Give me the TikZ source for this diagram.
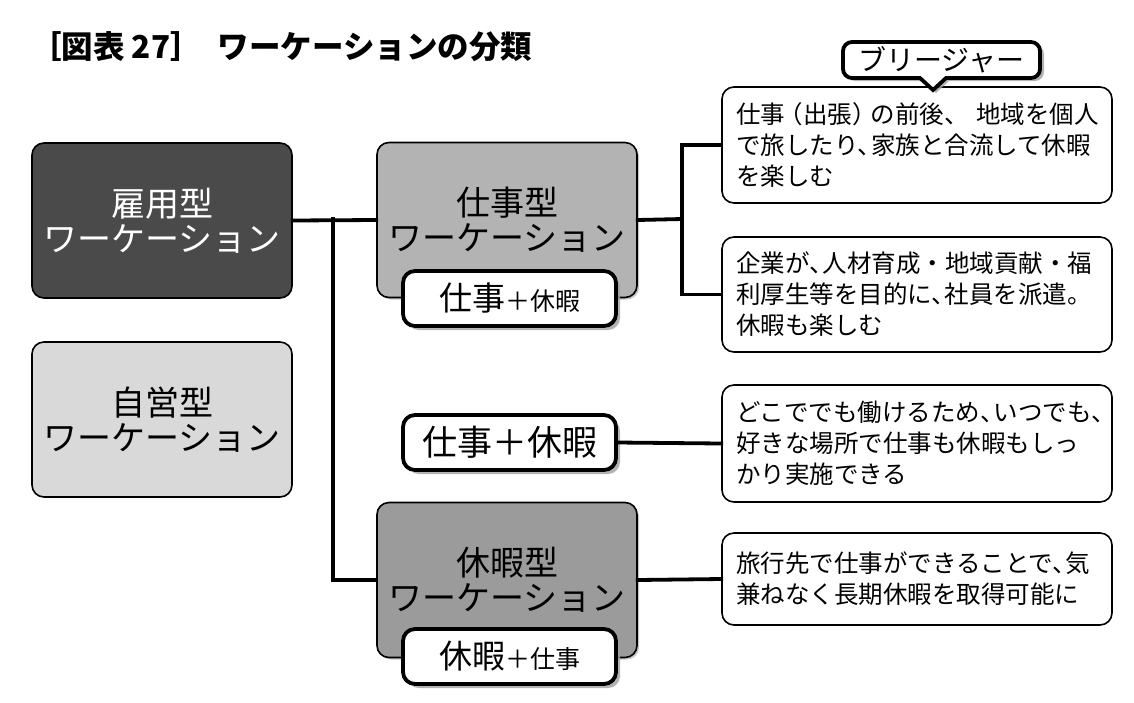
\documentclass[tikz,border=0pt]{standalone}
\usepackage{fontspec}
\setmainfont{Noto Sans CJK JP}
\usetikzlibrary{shadows}
\definecolor{cdark}{HTML}{4A4A4A}
\definecolor{clight}{HTML}{D9D9D9}
\definecolor{cmid}{HTML}{B3B3B3}
\definecolor{cmidd}{HTML}{9B9B9B}
\definecolor{cshadow}{HTML}{A0A0A0}
\newcommand\hc{、\kern-0.45em}
\tikzset{
  mainbox/.style={draw=black, line width=1.6pt, rounded corners=12pt, minimum width=260pt, minimum height=155pt, align=center, font=\fontsize{34}{35}\selectfont},
  subbox/.style={draw=black, fill=white, line width=3.8pt, rounded corners=12pt, minimum width=213pt, minimum height=55pt, inner sep=0pt,
    drop shadow={shadow xshift=4pt, shadow yshift=-4pt, fill=cshadow, opacity=0.8}},
  descbox/.style={draw=black, line width=1.6pt, rounded corners=12pt, minimum width=390pt, text width=362pt, align=left, inner xsep=14pt, font=\fontsize{24.5}{31}\selectfont},
  conn/.style={line width=3.8pt, line cap=rect},
}
\begin{document}
\begin{tikzpicture}[x=1pt, y=-1pt]
\useasboundingbox (0,0) rectangle (1134,702);
% title
\node[anchor=west, inner sep=0pt, font=\fontsize{31.5}{34}\selectfont\bfseries] (title) at (30,47) {［図表 27］\hspace{16pt}ワーケーションの分類};

% left boxes
\node[mainbox, fill=cdark, text=white] (koyo) at (162,220.5) {雇用型\\ワーケーション};
\node[mainbox, fill=clight] (jiei) at (162,419.5) {自営型\\ワーケーション};

% middle boxes
\node[mainbox, fill=cmid, drop shadow={shadow xshift=2pt, shadow yshift=-2pt, fill=cshadow, opacity=0.6}] (shigoto) at (507,220) {仕事型\\ワーケーション};
\node[mainbox, fill=cmidd, drop shadow={shadow xshift=2pt, shadow yshift=-2pt, fill=cshadow, opacity=0.6}] (kyuka) at (507,580) {休暇型\\ワーケーション};

\node[subbox] (sub1) at (509.5,298.5) {\fontsize{33}{34}\selectfont 仕事\fontsize{25}{26}\selectfont ＋休暇};
\node[subbox, font=\fontsize{35}{36}\selectfont] (wk) at (509.5,442.5) {仕事＋休暇};
\node[subbox] (sub2) at (509.5,656.5) {\fontsize{33}{34}\selectfont 休暇\fontsize{25}{26}\selectfont ＋仕事};

% description boxes
\node[descbox, minimum height=116pt] (d1) at (917,145) {\mbox{仕事\kern-0.25em（出張）\kern-0.25em の前後、\kern0.3em 地域を個人}\\\mbox{で旅したり\hc 家族と合流して休暇}\\を楽しむ};
\node[descbox, minimum height=115pt] (d2) at (917,294.5) {\mbox{企業が\hc 人材育成・地域貢献・福}\\\mbox{利厚生等を目的に\hc 社員を派遣。}\\休暇も楽しむ};
\node[descbox, minimum height=117pt] (d3) at (917,443.5) {\mbox{どこででも働けるため\hc いつでも\hc}\\\mbox{好きな場所で仕事も休暇もしっ}\\かり実施できる};
\node[descbox, minimum height=92pt] (d4) at (917,579) {\mbox{旅行先で仕事ができることで\hc 気}\\\mbox{兼ねなく長期休暇を取得可能に}};

% connectors
\coordinate (j1) at (333,219);
\coordinate (j2) at (682,219);
\draw[conn] (koyo.east) -- (shigoto.west);
\draw[conn] (j1) |- (kyuka.west);
\draw[conn] (shigoto.east) -- (j2);
\draw[conn] (d1.west) -| (j2) |- (d2.west);
\draw[conn] (wk.east) -- (d3.west);
\draw[conn] (kyuka.east) -- (d4.west);

% callout
\fill[cshadow, opacity=0.8] (936,93) -- (949,81) [rounded corners=9pt] -- (1044,81) -- (1044,45) -- (846,45) -- (846,81) [sharp corners] -- (923,81) -- cycle;
\draw[line width=3.8pt, fill=white, line join=miter] (933,90) -- (946,78) [rounded corners=9pt] -- (1040,78) -- (1040,42) -- (843,42) -- (843,78) [sharp corners] -- (920,78) -- cycle;
\node[font=\fontsize{28}{30}\selectfont, inner sep=0pt] (bl) at (941.5,60) {ブリージャー};
\end{tikzpicture}
\end{document}
